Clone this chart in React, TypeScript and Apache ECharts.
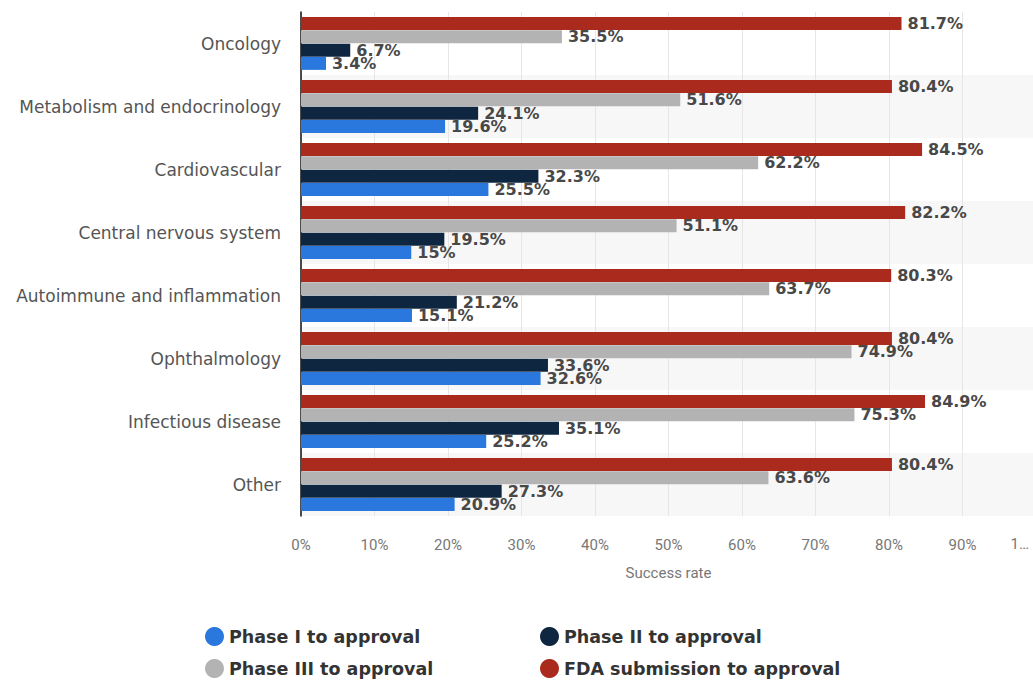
import React, { useEffect, useRef } from "react";
import * as echarts from "echarts";

const categories = [
  "Oncology",
  "Metabolism and endocrinology",
  "Cardiovascular",
  "Central nervous system",
  "Autoimmune and inflammation",
  "Ophthalmology",
  "Infectious disease",
  "Other",
];
const phase1 = [3.4, 19.6, 25.5, 15, 15.1, 32.6, 25.2, 20.9];
const phase2 = [6.7, 24.1, 32.3, 19.5, 21.2, 33.6, 35.1, 27.3];
const phase3 = [35.5, 51.6, 62.2, 51.1, 63.7, 74.9, 75.3, 63.6];
const fda = [81.7, 80.4, 84.5, 82.2, 80.3, 80.4, 84.9, 80.4];
const truncatedMaxLabel = "1…";

const seriesNames = [
  "Phase I to approval",
  "Phase II to approval",
  "Phase III to approval",
  "FDA submission to approval",
];
const colors = ["#2a78de", "#0f2640", "#b3b3b3", "#ab2a1e"];

export default function App() {
  const ref = useRef<HTMLDivElement>(null);
  useEffect(() => {
    const chart = echarts.init(ref.current!, null, { renderer: "svg" });
    const label = {
      show: true,
      position: "right",
      distance: 6,
      formatter: (p: any) => p.value + "%",
      fontFamily: "DejaVu Sans",
      fontWeight: "bold",
      fontSize: 16,
      color: "#484848",
    };
    const dataSets = [fda, phase3, phase2, phase1];
    const nameIdx = [3, 2, 1, 0];
    const series = dataSets.map((d, i) => ({
      name: seriesNames[nameIdx[i]],
      type: "bar",
      data: d,
      barWidth: 13,
      barGap: "2%",
      itemStyle: { color: colors[nameIdx[i]] },
      label,
    }));
    const legendPos = [
      { left: 200, top: 622 },
      { left: 535, top: 622 },
      { left: 200, top: 654 },
      { left: 535, top: 654 },
    ];
    const tickFont = "Liberation Sans Narrow, Roboto, sans-serif";
    chart.setOption({
      animation: false,
      grid: {
        left: 301,
        top: 12,
        width: 735,
        height: 504,
        containLabel: false,
        outerBoundsMode: "none",
      },
      graphic: [
        {
          type: "text",
          right: 4,
          top: 536,
          style: {
            text: truncatedMaxLabel,
            font: `15px ${tickFont}`,
            fill: "#777",
          },
        },
      ],
      legend: seriesNames.map((n, i) => ({
        data: [n],
        left: legendPos[i].left,
        top: legendPos[i].top,
        icon: "circle",
        itemWidth: 19,
        itemHeight: 19,
        itemGap: 12,
        textStyle: {
          fontFamily: "DejaVu Sans",
          fontWeight: "bold",
          fontSize: 17.5,
          color: "#333",
        },
      })),
      xAxis: {
        type: "value",
        min: 0,
        max: 100,
        interval: 10,
        name: "Success rate",
        nameLocation: "middle",
        nameGap: 49,
        nameTextStyle: {
          fontFamily: tickFont,
          fontSize: 15,
          color: "#777",
        },
        axisLine: { show: false },
        axisTick: { show: false },
        axisLabel: {
          formatter: (v: number) => (v === 100 ? "" : v + "%"),
          fontFamily: tickFont,
          fontSize: 15,
          color: "#777",
          margin: 21,
        },
        splitLine: { show: true, lineStyle: { color: "#e6e6e6", width: 1 } },
      },
      yAxis: {
        type: "category",
        data: categories,
        inverse: true,
        axisLine: { show: true, lineStyle: { color: "#111", width: 1.5 } },
        axisTick: { show: false },
        axisLabel: {
          fontFamily: "DejaVu Sans",
          fontSize: 17,
          color: "#555",
          margin: 20,
          padding: [5, 0, 0, 0],
        },
        splitArea: { show: true, areaStyle: { color: ["#ffffff", "#f7f7f7"] } },
      },
      series,
    });
    return () => chart.dispose();
  }, []);
  return (
    <div
      ref={ref}
      style={{ position: "absolute", left: 0, top: 0, width: 1033, height: 682 }}
    />
  );
}
